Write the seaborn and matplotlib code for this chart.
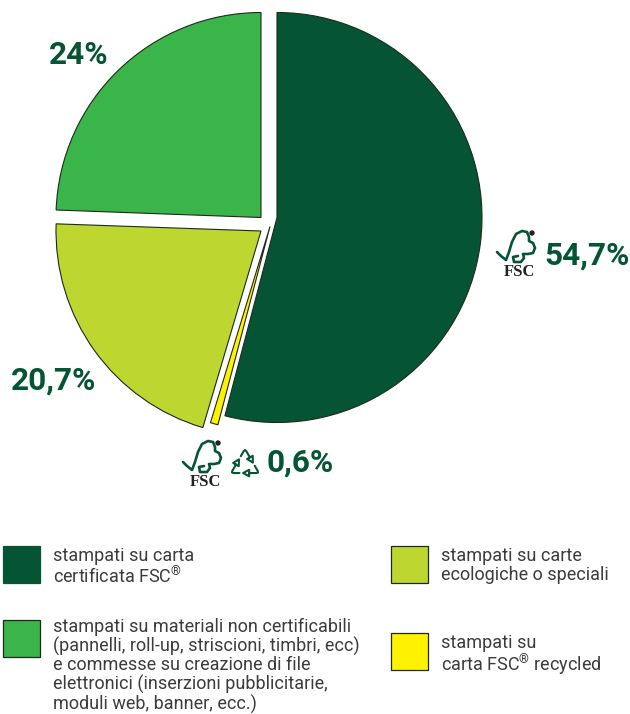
import numpy as np
import matplotlib
matplotlib.use('Agg')
import matplotlib.pyplot as plt
from matplotlib.patches import Rectangle, Circle
import seaborn as sns

# ============================================================
# DATA
# ============================================================

values = [54.7, 24.0, 20.7, 0.6]
value_labels = ['54,7%', '24%', '20,7%', '0,6%']
colors = ['#055535', '#3AB54A', '#BDD730', '#FFF200']

reg = r'$^{\mathregular{®}}$'
legend_texts = [
    'stampati su carta\ncertificata FSC' + reg,
    'stampati su materiali non certificabili\n(pannelli, roll-up, striscioni, timbri, ecc)\n'
    'e commesse su creazione di file\nelettronici (inserzioni pubblicitarie,\nmoduli web, banner, ecc.)',
    'stampati su carte\necologiche o speciali',
    'stampati su\ncarta FSC' + reg + ' recycled',
]

# ============================================================
# SETUP
# ============================================================

sns.set_theme(style='white')
plt.rcParams['font.family'] = ['Roboto', 'DejaVu Sans']
plt.rcParams['mathtext.fontset'] = 'custom'
plt.rcParams['mathtext.rm'] = 'Roboto'
H = 714

fig = plt.figure(figsize=(6.3, 7.14), dpi=100)
ax = fig.add_axes([0, 0, 1, 1])

# ============================================================
# PIE
# ============================================================

# order round the pie: dark, yellow, lime, green, going clockwise from the top
order = [0, 3, 2, 1]
wedges, _ = ax.pie([values[i] for i in order], colors=[colors[i] for i in order],
                   startangle=90, counterclock=False, radius=205, center=(277, H - 217.5),
                   frame=True, wedgeprops={'edgecolor': '#1c2a1c', 'linewidth': 0.8})
ax.set_xlim(0, 630)
ax.set_ylim(0, H)
ax.axis('off')

# each slice is pulled away from the dark one by its own offset, and the
# drawn edges sit a little off the exact percentages
offsets = [(0, 0), (-7, -9), (-16, -13.5), (-16, 0)]
theta_nudge = [(2.2, 0), (2.2, 2.2), (1.6, 2.6), (0, 1.5)]
for w, (dx, dy), (t1, t2) in zip(wedges, offsets, theta_nudge):
    w.set_center((277 + dx, H - 217.5 + dy))
    w.set_theta1(w.theta1 + t1)
    w.set_theta2(w.theta2 + t2)

# ============================================================
# LABELS
# ============================================================

green = '#055535'
label_pos = [(544, 256), (49, 55), (11, 381), (267, 463)]
for txt, (x, y) in zip(value_labels, label_pos):
    ax.text(x, H - y, txt, color=green, fontsize=22.7, fontweight='bold', va='center', ha='left')


def fsc_logo(x0, y0):
    px = [0, 4, 9, 12, 15, 19, 25, 30, 32, 32, 36, 38, 36, 31, 26, 27, 24, 17, 16, 21]
    py = [22, 26, 30, 22, 12, 4, 1, 2, 7, 11, 13, 18, 23, 24, 24, 28, 32, 32, 27, 26]
    ax.plot([x0 + a for a in px], [H - y0 - b for b in py], color=green, lw=1.9,
            solid_joinstyle='round', solid_capstyle='round')
    ax.add_patch(Circle((x0 + 35, H - y0 - 3), 2.7, color='#222222', lw=0))
    ax.text(x0 + 22, H - y0 - 42, 'FSC', family='Liberation Serif', fontweight='bold',
            fontsize=12, color='#222222', ha='center', va='center')


def recycle_logo(cx, cy):
    # one bent arrow, turned three times round the centre of the triangle
    arm = np.array([[-4.2, 8.8], [-1.2, 14], [0, 15], [1.2, 14], [4.9, 7.6],
                    [2.1, 6], [7.9, 2.4], [7.7, 9.2], [4.9, 7.6]])
    for a in np.deg2rad([0, 120, 240]):
        rot = np.array([[np.cos(a), -np.sin(a)], [np.sin(a), np.cos(a)]])
        pts = arm @ rot.T
        ax.plot(cx + pts[:, 0], H - cy + pts[:, 1], color=green, lw=1.5, solid_joinstyle='round')


fsc_logo(497, 230)
fsc_logo(183, 440)
recycle_logo(245, 465)

# ============================================================
# LEGEND
# ============================================================

boxes = [(3, 546, 37), (3, 620, 37), (391, 546, 37), (391, 633, 37)]
text_y = [556, 627, 556, 643]
line_sp = [1.07, 1.04, 1.07, 1.07]
for i, (x, y, s) in enumerate(boxes):
    ax.add_patch(Rectangle((x, H - y - s), s, s, facecolor=colors[i],
                           edgecolor='#1c2a1c' if i else colors[i], lw=0.9))
    ax.text(x + 50, H - text_y[i] + 9, legend_texts[i], color='#3c3c3c', fontsize=13,
            va='top', ha='left', linespacing=line_sp[i])

plt.savefig('out.png', dpi=100)
plt.close()
